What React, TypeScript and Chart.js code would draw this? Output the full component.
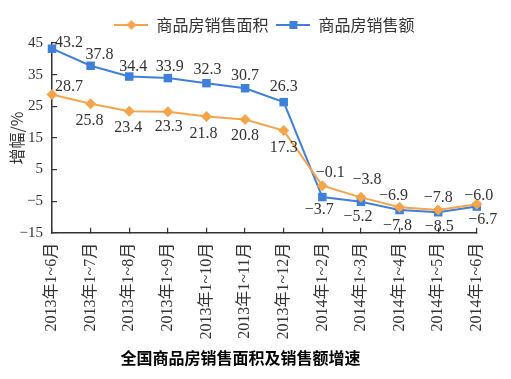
import React, { useEffect, useRef } from "react";
import { Chart, registerables } from "chart.js";

Chart.register(...registerables);

// ---- data ----
const categories = [
  "2013年1~6月",
  "2013年1~7月",
  "2013年1~8月",
  "2013年1~9月",
  "2013年1~10月",
  "2013年1~11月",
  "2013年1~12月",
  "2014年1~2月",
  "2014年1~3月",
  "2014年1~4月",
  "2014年1~5月",
  "2014年1~6月",
];
const seriesNames = ["商品房销售面积", "商品房销售额"];
const areaGrowth = [28.7, 25.8, 23.4, 23.3, 21.8, 20.8, 17.3, -0.1, -3.8, -6.9, -7.8, -6.0];
const salesGrowth = [43.2, 37.8, 34.4, 33.9, 32.3, 30.7, 26.3, -3.7, -5.2, -7.8, -8.5, -6.7];
const yMin = -15;
const yMax = 45;
const yStep = 10;
const yTitle = "增幅/%";
const chartTitle = "全国商品房销售面积及销售额增速";

// ---- styling ----
const ORANGE = "#F4A54C";
const BLUE = "#3F7FD9";
const TEXT = "#333333";
const SERIF = "'Liberation Serif', 'Times New Roman', 'Noto Sans CJK SC', serif";
const CJK = "'Noto Sans CJK SC', sans-serif";

// label placement per point: [dx, dy, align]
type Off = [number, number, CanvasTextAlign];
const areaLabelOffsets: Off[] = [
  [3, -8, "left"],
  [-1, 17, "center"],
  [-1, 16, "center"],
  [1, 15, "center"],
  [-3, 17, "center"],
  [0, 16, "center"],
  [0, 17, "center"],
  [8, -13, "center"],
  [6, -18, "center"],
  [-6, -11, "center"],
  [0, -12, "center"],
  [2, -9, "center"],
];
const salesLabelOffsets: Off[] = [
  [3, -6, "left"],
  [9, -11, "center"],
  [4, -10, "center"],
  [2, -11, "center"],
  [1, -13, "center"],
  [0, -12, "center"],
  [0, -15, "center"],
  [-3, 13, "center"],
  [-3, 15, "center"],
  [-2, 16, "center"],
  [1, 15, "center"],
  [6, 13, "center"],
];
const labelOffsets = [areaLabelOffsets, salesLabelOffsets];

const fmt = (v: number) => v.toFixed(1).replace("-", "−");

function makeIcon(color: string, kind: "diamond" | "square") {
  const c = document.createElement("canvas");
  c.width = 34;
  c.height = 12;
  const g = c.getContext("2d")!;
  g.strokeStyle = color;
  g.lineWidth = 2;
  g.beginPath();
  g.moveTo(0, 6);
  g.lineTo(34, 6);
  g.stroke();
  g.fillStyle = color;
  if (kind === "diamond") {
    g.beginPath();
    g.moveTo(12, 6);
    g.lineTo(17, 1);
    g.lineTo(22, 6);
    g.lineTo(17, 11);
    g.closePath();
    g.fill();
  } else {
    g.fillRect(13, 2, 8, 8);
  }
  return c;
}

const pointLabelPlugin = {
  id: "pointLabels",
  afterDatasetsDraw(chart: any) {
    const ctx = chart.ctx as CanvasRenderingContext2D;
    ctx.save();
    ctx.font = `16px ${SERIF}`;
    ctx.fillStyle = TEXT;
    ctx.textBaseline = "middle";
    chart.data.datasets.forEach((ds: any, di: number) => {
      const meta = chart.getDatasetMeta(di);
      const offs = labelOffsets[di];
      meta.data.forEach((pt: any, i: number) => {
        const [dx, dy, align] = offs[i];
        ctx.textAlign = align;
        ctx.fillText(fmt(ds.data[i]), pt.x + dx, pt.y + dy);
      });
    });
    ctx.restore();
  },
};

export default function App() {
  const ref = useRef<HTMLCanvasElement | null>(null);

  useEffect(() => {
    if (!ref.current) return;
    const icons = [makeIcon(ORANGE, "diamond"), makeIcon(BLUE, "square")];
    const chart = new Chart(ref.current, {
      type: "line",
      data: {
        labels: categories,
        datasets: [
          {
            label: seriesNames[0],
            data: areaGrowth,
            borderColor: ORANGE,
            backgroundColor: ORANGE,
            borderWidth: 2,
            pointStyle: "rectRot",
            pointRadius: 5.5,
            pointBorderWidth: 0,
            tension: 0,
            clip: false as any,
          },
          {
            label: seriesNames[1],
            data: salesGrowth,
            borderColor: BLUE,
            backgroundColor: BLUE,
            borderWidth: 2,
            pointStyle: "rect",
            pointRadius: 6,
            pointBorderWidth: 0,
            tension: 0,
            clip: false as any,
          },
        ],
      },
      options: {
        responsive: false,
        animation: false,
        devicePixelRatio: 1,
        layout: { padding: { top: 9, right: 30, bottom: 11, left: 0 } },
        plugins: {
          legend: {
            position: "top",
            fullSize: false,
            labels: {
              usePointStyle: true,
              pointStyleWidth: 34,
              padding: 8,
              color: TEXT,
              font: { size: 16, family: CJK },
              generateLabels: (c: any) =>
                c.data.datasets.map((ds: any, i: number) => ({
                  text: ds.label,
                  pointStyle: icons[i],
                  fillStyle: ds.borderColor,
                  strokeStyle: ds.borderColor,
                  lineWidth: 0,
                  hidden: false,
                  datasetIndex: i,
                  fontColor: TEXT,
                })),
            },
          },
          title: {
            display: true,
            text: chartTitle,
            position: "bottom",
            color: "#000",
            font: { size: 16, weight: "bold", family: CJK },
            padding: { top: 10, bottom: 0 },
          },
          tooltip: { enabled: false },
        },
        scales: {
          x: {
            type: "category",
            offset: false,
            grid: {
              display: true,
              drawOnChartArea: false,
              drawTicks: true,
              tickLength: -5,
              color: TEXT,
              lineWidth: 1.2,
            },
            border: { display: true, color: TEXT, width: 1.5 },
            ticks: {
              autoSkip: false,
              minRotation: 90,
              maxRotation: 90,
              padding: 15,
              color: TEXT,
              font: { size: 16, family: SERIF },
            },
            afterFit: (s: any) => {
              s.height = 106;
            },
          },
          y: {
            min: yMin,
            max: yMax,
            grid: {
              display: true,
              drawOnChartArea: false,
              drawTicks: true,
              tickLength: -5,
              color: TEXT,
              lineWidth: 1.2,
            },
            border: { display: true, color: TEXT, width: 1.5 },
            ticks: {
              stepSize: yStep,
              padding: 14,
              color: TEXT,
              font: { size: 15, family: SERIF },
              callback: (v: any) => String(v).replace("-", "−"),
            },
            title: {
              display: true,
              text: yTitle,
              color: TEXT,
              font: { size: 16, family: CJK },
              padding: { top: 7, bottom: 0 },
            },
            afterFit: (s: any) => {
              s.width = 52;
            },
          },
        },
      },
      plugins: [pointLabelPlugin],
    });
    return () => chart.destroy();
  }, []);

  return (
    <div style={{ position: "fixed", left: 0, top: 0, width: 511, height: 379, background: "#fff" }}>
      <canvas ref={ref} width={511} height={379} style={{ width: 511, height: 379, display: "block" }} />
    </div>
  );
}
